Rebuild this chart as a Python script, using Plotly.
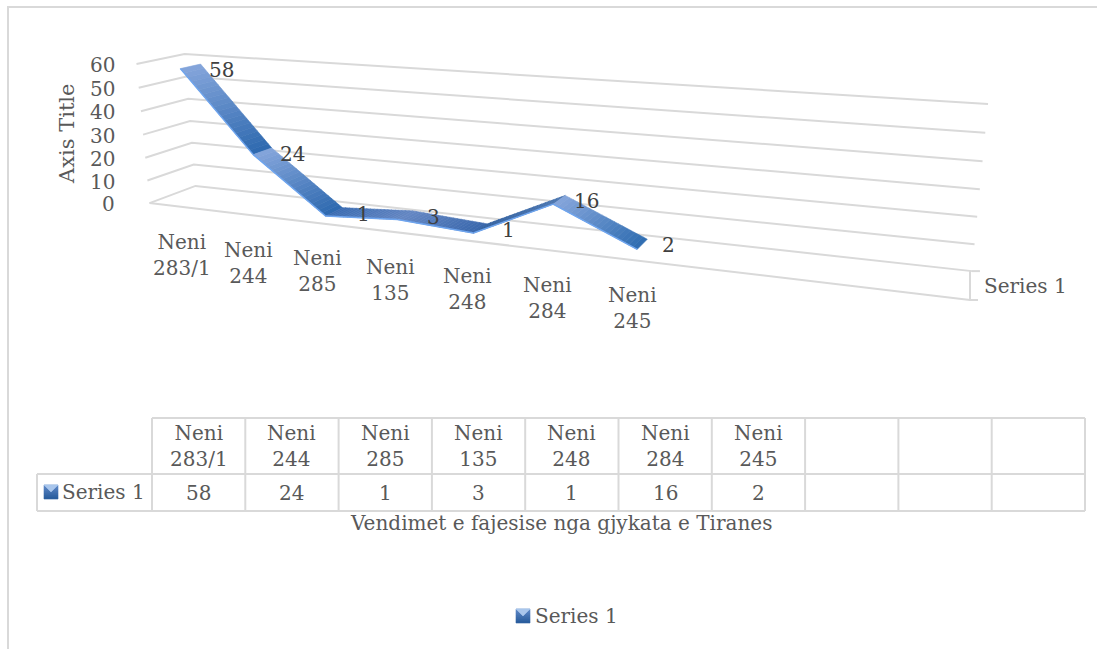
import numpy as np
import plotly.graph_objects as go

# ---------- data ----------
categories = ["Neni<br>283/1", "Neni<br>244", "Neni<br>285", "Neni<br>135", "Neni<br>248", "Neni<br>284", "Neni<br>245"]
series_name = "Series 1"
values = [58, 24, 1, 3, 1, 16, 2]
value_ticks = [0, 10, 20, 30, 40, 50, 60]
axis_title = "Axis Title"
table_title = "Vendimet e fajesise nga gjykata e Tiranes"
legend_label = "Series 1"

# ---------- style ----------
FONT = "DejaVu Serif"
TXT = "#595959"
LBL = "#404040"
GRID = "#D9D9D9"
seg_colors = [("#86A6DC", "#2D69AF"), ("#86A6DC", "#2D69AF"), ("#3A6CB2", "#6486C2"),
              ("#6688C4", "#3A68AD"), ("#2F5F9F", "#4A75B0"), ("#86A6DC", "#2F6DB1")]
N_SLOTS = 10
VMAX = 60
Z_FRONT, Z_BACK = 0.78, 0.35

# ---------- 3-D box projection (x slot, value, depth) -> page pixels ----------
calib = [((0, 0, 1), (150, 203)), ((0, 60, 1), (136, 64)), ((0, 0, 0), (195, 186)), ((0, 60, 0), (185, 54)),
         ((10, 0, 0), (972, 271)), ((10, 60, 0), (988, 104)), ((10, 0, 1), (970, 300))]
A = []
for (X, Y, Z), (u, v) in calib:
    X1, Y1 = X / 10, Y / 60
    A.append([X1, Y1, Z, 1, 0, 0, 0, 0, -u * X1, -u * Y1, -u * Z, -u])
    A.append([0, 0, 0, 0, X1, Y1, Z, 1, -v * X1, -v * Y1, -v * Z, -v])
P = np.linalg.svd(np.array(A, float))[2][-1].reshape(3, 4)


def proj(x, v, z):
    h = P @ np.array([x / 10, v / 60, z, 1.0])
    return h[0] / h[2], h[1] / h[2]


def hex2rgb(c):
    return np.array([int(c[i:i + 2], 16) for i in (1, 3, 5)], float)


def mix(a, b, t):
    t = min(max(t, 0), 1)
    r = hex2rgb(a) * (1 - t) + hex2rgb(b) * t
    return "rgb(%d,%d,%d)" % tuple(r)


fig = go.Figure()


def line(xs, ys, color=GRID, width=2):
    fig.add_trace(go.Scatter(x=xs, y=ys, mode="lines", line=dict(color=color, width=width), hoverinfo="skip", showlegend=False))


def poly(pts, color):
    xs = [p[0] for p in pts] + [pts[0][0]]
    ys = [p[1] for p in pts] + [pts[0][1]]
    fig.add_trace(go.Scatter(x=xs, y=ys, mode="lines", fill="toself", fillcolor=color,
                             line=dict(color=color, width=0.6), hoverinfo="skip", showlegend=False))


def text(x, y, s, size=20, color=TXT, angle=0, xanchor="center"):
    fig.add_annotation(x=x, y=y, xref="x", yref="y", text=s, showarrow=False, textangle=angle, xanchor=xanchor,
                       yanchor="middle", font=dict(family=FONT, size=size, color=color))


# frame
line([8, 8, 1097], [649, 7, 7])

# grid: left wall + back wall
for t in value_ticks:
    a, b, c = proj(0, t, 1), proj(0, t, 0), proj(10, t, 0)
    line([a[0], b[0], c[0]], [a[1], b[1], c[1]])
# floor front edge + depth axis
a, b = proj(0, 0, 1), proj(10, 0, 1)
line([a[0], b[0], b[0] + 8], [a[1], b[1], b[1]])
c = proj(10, 0, 0)
line([c[0], c[0] + 8], [c[1], c[1]])
line([b[0], b[0]], [b[1], c[1]])

# ribbon
for i in range(len(values) - 1):
    ca, cb = seg_colors[i]
    f0, f1 = proj(i + .5, values[i], Z_FRONT), proj(i + 1.5, values[i + 1], Z_FRONT)
    b0, b1 = proj(i + .5, values[i], Z_BACK), proj(i + 1.5, values[i + 1], Z_BACK)
    n = 20
    for k in range(n):
        u0, u1 = k / n, (k + 1) / n
        q = [(f0[0] + (f1[0] - f0[0]) * u0, f0[1] + (f1[1] - f0[1]) * u0),
             (f0[0] + (f1[0] - f0[0]) * u1, f0[1] + (f1[1] - f0[1]) * u1),
             (b0[0] + (b1[0] - b0[0]) * u1, b0[1] + (b1[1] - b0[1]) * u1),
             (b0[0] + (b1[0] - b0[0]) * u0, b0[1] + (b1[1] - b0[1]) * u0)]
        poly(q, mix(ca, cb, (u0 + u1) / 2))
    line([f0[0], f1[0]], [f0[1], f1[1]], "#6FA5EE", 1.5)

# value labels, category labels, ticks
for i, v in enumerate(values):
    p = proj(i + .5, v, Z_BACK)
    text(p[0] + 21, p[1] + 6, str(v), color=LBL)
for i, c in enumerate(categories):
    p = proj(i + .5, 0, 1)
    text(p[0] + 1, p[1] + 48.5, c)
for t in value_ticks:
    p = proj(0, t, 1)
    text(117, p[1] + 1, str(t), xanchor="right")
text(67, 134, axis_title, size=21, angle=-90)
text(1025, 286, series_name)

# data table
col_x = np.linspace(152, 1085, 11)
for x in col_x:
    line([x, x], [418, 511])
line([152, 1085], [418, 418])
line([37, 1085], [474, 474])
line([37, 1085], [511, 511])
line([37, 37], [474, 511])
for i, (c, v) in enumerate(zip(categories, values)):
    mid = (col_x[i] + col_x[i + 1]) / 2
    text(mid, 446, c)
    text(mid, 493, str(v))
text(147, 492, series_name, xanchor="right")
text(561, 523, table_title)


def key(x0, y0):
    s = 14
    for k in range(7):
        poly([(x0, y0 + k * s / 7), (x0 + s, y0 + k * s / 7), (x0 + s, y0 + (k + 1) * s / 7), (x0, y0 + (k + 1) * s / 7)],
             mix("#5F8AC8", "#2C5F9E", k / 6))
    poly([(x0, y0), (x0 + s, y0), (x0 + s / 2, y0 + s / 2)], "#A9C6EC")


key(44, 485)
key(516, 609)
text(533, 616, legend_label, xanchor="left")

fig.update_layout(width=1104, height=649, autosize=False, margin=dict(l=0, r=0, t=0, b=0),
                  paper_bgcolor="white", plot_bgcolor="white", showlegend=False,
                  xaxis=dict(range=[0, 1104], visible=False, fixedrange=True),
                  yaxis=dict(range=[649, 0], visible=False, fixedrange=True))
fig.write_html("out.html", config=dict(displayModeBar=False),
               post_script="document.body.style.margin='0';document.body.style.overflow='hidden';")
